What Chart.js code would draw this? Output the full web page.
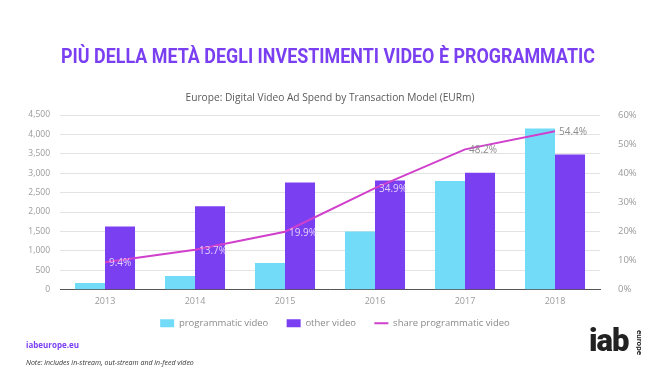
<!DOCTYPE html>
<html lang="it">
<head>
    <meta charset="utf-8">
    <title>Digital Video Ad Spend</title>
    <script src="https://cdn.jsdelivr.net/npm/chart.js"></script>
    <style>
        html, body {
            margin: 0;
            padding: 0;
            background: #ffffff;
        }
        .page {
            position: relative;
            width: 670px;
            height: 377px;
            overflow: hidden;
            font-family: "Open Sans", sans-serif;
        }
        .title {
            position: absolute;
            top: 44px;
            left: 0;
            width: 656px;
            text-align: center;
            font-family: "Liberation Sans Narrow", "Roboto", sans-serif;
            font-weight: bold;
            font-size: 20px;
            color: #7b3ff2;
            transform: scaleX(0.895);
            transform-origin: 328px 0;
        }
        .subtitle {
            position: absolute;
            top: 90px;
            left: 0;
            width: 660px;
            text-align: center;
            font-size: 10.2px;
            color: #595959;
        }
        .site {
            position: absolute;
            left: 26px;
            top: 339px;
            font-size: 8px;
            font-weight: bold;
            color: #7b3ff2;
        }
        .note {
            position: absolute;
            left: 26px;
            top: 358px;
            font-size: 7px;
            font-style: italic;
            color: #333;
        }
        .logo {
            position: absolute;
            left: 589px;
            top: 322px;
            font-family: "Roboto", sans-serif;
            font-weight: 900;
            font-size: 31px;
            color: #222;
            letter-spacing: -1px;
        }
        .logo span {
            position: absolute;
            left: 55px;
            top: 8px;
            font-size: 8px;
            font-weight: bold;
            letter-spacing: 0;
            transform: rotate(90deg);
            transform-origin: left top;
        }
        #chart {
            position: absolute;
            left: 0;
            top: 0;
        }
    </style>
</head>
<body>
<div class="page">
    <canvas id="chart" width="670" height="377"></canvas>
    <div class="title">PIÙ DELLA METÀ DEGLI INVESTIMENTI VIDEO È PROGRAMMATIC</div>
    <div class="subtitle">Europe: Digital Video Ad Spend by Transaction Model (EURm)</div>
    <div class="site">iabeurope.eu</div>
    <div class="note">Note: includes in-stream, out-stream and in-feed video</div>
    <div class="logo">iab<span>europe</span></div>
</div>

<script>
    // dati
    const years = ['2013', '2014', '2015', '2016', '2017', '2018'];
    const programmatic = [175, 350, 690, 1500, 2800, 4150];
    const otherVideo = [1630, 2150, 2760, 2810, 3010, 3480];
    const sharePct = [9.4, 13.7, 19.9, 34.9, 48.2, 54.4];
    const leftTicks = [0, 500, 1000, 1500, 2000, 2500, 3000, 3500, 4000, 4500];
    const rightTicks = [0, 10, 20, 30, 40, 50, 60];

    const CYAN = '#72dcf8';
    const PURPLE = '#7b3ff2';
    const MAGENTA = '#d040cc';
    const TICK_GREY = '#9a9a9a';

    // etichette percentuali sulla linea
    const shareLabels = {
        id: 'shareLabels',
        afterDatasetsDraw(chart) {
            const meta = chart.getDatasetMeta(2);
            const ctx = chart.ctx;
            ctx.save();
            ctx.font = '10px "Open Sans", sans-serif';
            ctx.textAlign = 'left';
            ctx.textBaseline = 'middle';
            meta.data.forEach((pt, i) => {
                ctx.fillStyle = i < 4 ? 'rgba(235,225,250,0.9)' : '#8c8c8c';
                ctx.fillText(sharePct[i].toFixed(1) + '%', pt.x + 4, pt.y + 1);
            });
            ctx.restore();
        }
    };

    new Chart(document.getElementById('chart'), {
        data: {
            labels: years,
            datasets: [{
                type: 'bar',
                label: 'programmatic video',
                data: programmatic,
                backgroundColor: CYAN,
                yAxisID: 'y',
                order: 2
            }, {
                type: 'bar',
                label: 'other video',
                data: otherVideo,
                backgroundColor: PURPLE,
                yAxisID: 'y',
                order: 2
            }, {
                type: 'line',
                label: 'share programmatic video',
                data: sharePct,
                borderColor: MAGENTA,
                backgroundColor: MAGENTA,
                borderWidth: 2,
                pointRadius: 0,
                tension: 0,
                yAxisID: 'y1',
                order: 1
            }]
        },
        options: {
            responsive: false,
            animation: false,
            layout: {
                padding: { top: 115, bottom: 39, left: 0, right: 0 }
            },
            datasets: {
                bar: {
                    categoryPercentage: 0.667,
                    barPercentage: 1.0
                }
            },
            scales: {
                x: {
                    grid: { display: false, drawTicks: false },
                    border: { color: '#555', width: 1 },
                    ticks: {
                        color: TICK_GREY,
                        font: { family: 'Open Sans', size: 9 },
                        padding: 6
                    }
                },
                y: {
                    position: 'left',
                    min: 0,
                    max: 4500,
                    afterBuildTicks: axis => { axis.ticks = leftTicks.map(v => ({ value: v })); },
                    afterFit: axis => { axis.width = 60; },
                    grid: { color: '#e3e3e3', drawTicks: false },
                    border: { display: false },
                    ticks: {
                        color: TICK_GREY,
                        font: { family: 'Open Sans', size: 8.5 },
                        padding: 10,
                        callback: v => v.toLocaleString('en-US')
                    }
                },
                y1: {
                    position: 'right',
                    min: 0,
                    max: 60,
                    afterBuildTicks: axis => { axis.ticks = rightTicks.map(v => ({ value: v })); },
                    afterFit: axis => { axis.width = 70; },
                    grid: { display: false },
                    border: { display: false },
                    ticks: {
                        color: TICK_GREY,
                        font: { family: 'Open Sans', size: 9.5 },
                        padding: 10,
                        callback: v => v + '%'
                    }
                }
            },
            plugins: {
                legend: {
                    position: 'bottom',
                    labels: {
                        color: '#8a8a8a',
                        font: { family: 'Open Sans', size: 9.5 },
                        usePointStyle: true,
                        pointStyleWidth: 14,
                        boxHeight: 8,
                        padding: 6,
                        sort: (a, b) => a.datasetIndex - b.datasetIndex,
                        generateLabels(chart) {
                            const items = Chart.defaults.plugins.legend.labels.generateLabels(chart);
                            return items.map(item => {
                                item.pointStyle = item.datasetIndex === 2 ? 'line' : 'rect';
                                item.fontColor = '#8a8a8a';
                                if (item.datasetIndex < 2) item.text += '     ';
                                return item;
                            });
                        }
                    }
                },
                tooltip: { enabled: false }
            }
        },
        plugins: [shareLabels]
    });
</script>
</body>
</html>
